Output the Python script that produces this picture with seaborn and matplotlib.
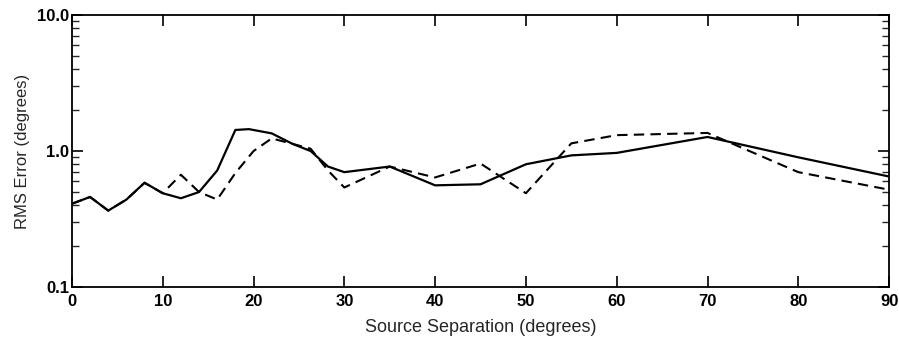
import matplotlib
matplotlib.use("Agg")
import matplotlib.pyplot as plt
import matplotlib.ticker as mticker
import seaborn as sns
import pandas as pd

# Solid curve
solid_x = [0, 2, 4, 6, 8, 10, 12, 14, 16, 18, 19.5, 22, 24.3, 26.3, 28.2, 30, 35, 40, 45, 50, 55, 60, 70, 80, 90]
solid_y = [0.41, 0.46, 0.365, 0.44, 0.585, 0.49, 0.45, 0.50, 0.72, 1.43, 1.45, 1.35, 1.13, 1.0, 0.77, 0.70, 0.77, 0.56, 0.57, 0.80, 0.93, 0.97, 1.27, 0.90, 0.65]

# Dashed curve
dashed_x = [0, 2, 4, 6, 8, 10, 12, 14, 16, 18, 20, 22, 24.3, 26.3, 28.2, 30, 35, 40, 45, 50, 55, 60, 70, 80, 90]
dashed_y = [0.41, 0.46, 0.365, 0.44, 0.585, 0.49, 0.67, 0.50, 0.44, 0.69, 1.0, 1.24, 1.13, 1.04, 0.72, 0.54, 0.77, 0.64, 0.81, 0.49, 1.14, 1.31, 1.36, 0.70, 0.52]

x_ticks = [0, 10, 20, 30, 40, 50, 60, 70, 80, 90]
y_ticks = [0.1, 1.0, 10.0]
y_tick_labels = ["0.1", "1.0", "10.0"]

sns.set_theme(style="ticks")
plt.rcParams["font.family"] = ["Liberation Sans", "DejaVu Sans"]

fig = plt.figure(figsize=(8.99, 3.43), dpi=100)
ax = fig.add_axes([0.080, 0.163, 0.909, 0.793])

df_s = pd.DataFrame({"x": solid_x, "y": solid_y})
df_d = pd.DataFrame({"x": dashed_x, "y": dashed_y})
sns.lineplot(data=df_d, x="x", y="y", ax=ax, color="black", linewidth=1.5,
             linestyle=(0, (5, 3)))
sns.lineplot(data=df_s, x="x", y="y", ax=ax, color="black", linewidth=1.6)

ax.set_yscale("log")
ax.set_xlim(0, 90)
ax.set_ylim(0.1, 10.0)
ax.set_xticks(x_ticks)
ax.set_xticklabels([str(t) for t in x_ticks])
ax.yaxis.set_major_locator(mticker.FixedLocator(y_ticks))
ax.yaxis.set_major_formatter(mticker.FixedFormatter(y_tick_labels))
ax.yaxis.set_minor_locator(mticker.LogLocator(base=10, subs=range(2, 10)))
ax.yaxis.set_minor_formatter(mticker.NullFormatter())

ax.tick_params(axis="both", which="major", direction="in", length=8, width=1.2,
               top=True, right=True, labelsize=12, colors="black")
ax.tick_params(axis="x", which="major", pad=5)
ax.tick_params(axis="y", which="major", pad=2)
ax.tick_params(axis="y", which="minor", direction="in", length=5, width=1.0,
               left=True, right=True)
for lbl in ax.get_xticklabels() + ax.get_yticklabels():
    lbl.set_fontweight("bold")
for sp in ax.spines.values():
    sp.set_visible(True)
    sp.set_linewidth(1.3)
    sp.set_color("black")

ax.set_xlabel("Source Separation (degrees)", fontsize=13, labelpad=7)
ax.set_ylabel("RMS Error (degrees)", fontsize=12, labelpad=5)

fig.savefig("out.png", dpi=100)
